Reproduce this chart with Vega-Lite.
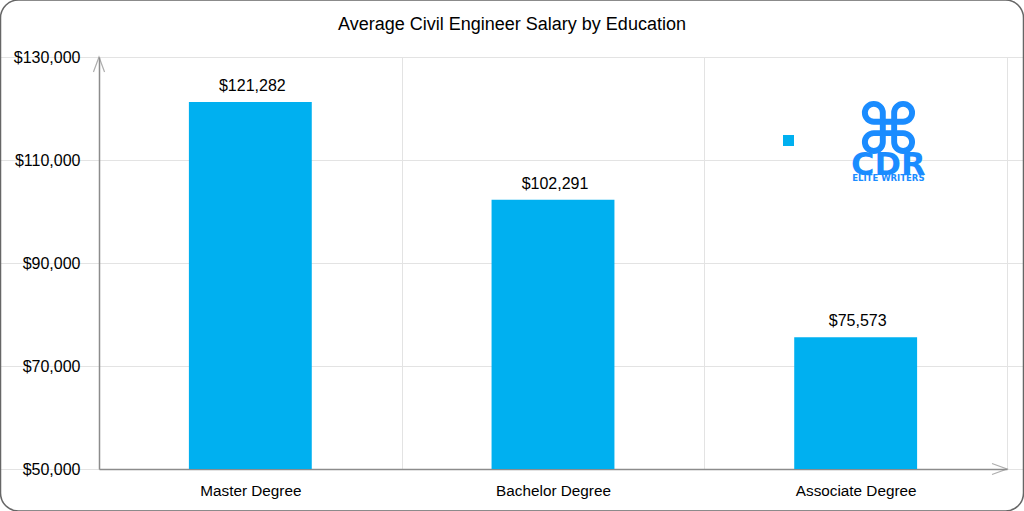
{"$schema":"https://vega.github.io/schema/vega-lite/v6.json","width":908,"height":412,"autosize":{"type":"none"},"padding":{"left":99,"top":57,"right":17,"bottom":42},"background":"#ffffff","title":{"text":"Average Civil Engineer Salary by Education","font":"Liberation Sans","fontSize":18,"fontWeight":"normal","color":"#000000","anchor":"middle","dx":-41,"offset":-35},"config":{"view":{"stroke":null},"font":"Liberation Sans"},"datasets":{"salary":[{"education":"Master Degree","salary":121282,"series":"Average Salary"},{"education":"Bachelor Degree","salary":102291,"series":"Average Salary"},{"education":"Associate Degree","salary":75573,"series":"Average Salary"}]},"resolve":{"scale":{"x":"independent"}},"layer":[{"data":{"values":[{"left":0,"right":1,"top":141068,"bottom":41845}]},"mark":{"type":"rect","fill":"transparent","stroke":"#666666","strokeWidth":1.5,"cornerRadius":18,"clip":false},"encoding":{"x":{"field":"left","type":"quantitative","axis":null,"scale":{"domain":[0,1],"range":[-98.5,924.5]}},"x2":{"field":"right"},"y":{"field":"top","type":"quantitative","scale":{"domain":[50000,130000],"nice":false},"title":null,"axis":{"values":[50000,70000,90000,110000,130000],"format":"$,.0f","labelFontSize":16,"labelColor":"#000000","labelPadding":19,"tickSize":0,"domain":true,"domainColor":"#8c8c8c","domainWidth":1.5,"grid":true,"gridColor":"#e3e3e3","gridWidth":1}},"y2":{"field":"bottom"}}},{"layer":[{"data":{"name":"salary"},"mark":{"type":"bar","width":{"band":0.406}},"encoding":{"x":{"field":"education","type":"nominal","sort":null,"title":null,"scale":{"paddingInner":0,"paddingOuter":0},"axis":{"labelAngle":0,"labelFontSize":15.3,"labelColor":"#000000","labelPadding":14,"tickSize":0,"tickBand":"extent","domain":true,"domainColor":"#8c8c8c","domainWidth":1.5,"grid":true,"gridColor":"#e3e3e3","gridWidth":1}},"y":{"field":"salary","type":"quantitative"},"y2":{"datum":50000},"color":{"field":"series","type":"nominal","scale":{"domain":["Average Salary"],"range":["#00b0f0"]},"legend":{"orient":"none","legendX":684,"legendY":78,"title":null,"padding":0,"symbolType":"square","symbolSize":121,"symbolStrokeWidth":0,"labelExpr":"''"}}}},{"data":{"name":"salary"},"mark":{"type":"text","baseline":"bottom","dy":-8,"dx":2,"fontSize":16,"color":"#000000"},"encoding":{"x":{"field":"education","type":"nominal","sort":null},"y":{"field":"salary","type":"quantitative"},"text":{"field":"salary","type":"quantitative","format":"$,.0f"}}},{"data":{"values":[{"education":"Associate Degree","salary":116214,"logo":"⌘"}]},"mark":{"type":"text","font":"DejaVu Sans","fontWeight":"bold","fontSize":70,"dy":5,"color":"#1a8cff","baseline":"middle"},"encoding":{"x":{"field":"education","type":"nominal","sort":null,"bandPosition":0.608},"y":{"field":"salary","type":"quantitative"},"text":{"field":"logo"}}},{"data":{"values":[{"education":"Associate Degree","salary":109417,"logo":"CDR"}]},"mark":{"type":"text","font":"DejaVu Sans","fontWeight":"bold","fontSize":32,"dy":2,"color":"#1a8cff","baseline":"middle"},"encoding":{"x":{"field":"education","type":"nominal","sort":null,"bandPosition":0.608},"y":{"field":"salary","type":"quantitative"},"text":{"field":"logo"}}},{"data":{"values":[{"education":"Associate Degree","salary":106699,"logo":"ELITE WRITERS"}]},"mark":{"type":"text","font":"DejaVu Sans","fontWeight":"bold","fontSize":8.5,"dy":1,"color":"#1a8cff","baseline":"middle"},"encoding":{"x":{"field":"education","type":"nominal","sort":null,"bandPosition":0.608},"y":{"field":"salary","type":"quantitative"},"text":{"field":"logo"}}},{"data":{"values":[{"education":"Master Degree","salary":130000}]},"mark":{"type":"point","shape":"M-0.37,1 L0,0 L0.37,1","size":900,"filled":false,"stroke":"#8c8c8c","strokeWidth":1.2,"clip":false},"encoding":{"x":{"field":"education","type":"nominal","sort":null,"bandPosition":0},"y":{"field":"salary","type":"quantitative"}}},{"data":{"values":[{"education":"Associate Degree","salary":50000}]},"mark":{"type":"point","shape":"M-0.37,1 L0,0 L0.37,1","size":900,"angle":90,"filled":false,"stroke":"#8c8c8c","strokeWidth":1.2,"clip":false},"encoding":{"x":{"field":"education","type":"nominal","sort":null,"bandPosition":1},"y":{"field":"salary","type":"quantitative"}}}]}]}
